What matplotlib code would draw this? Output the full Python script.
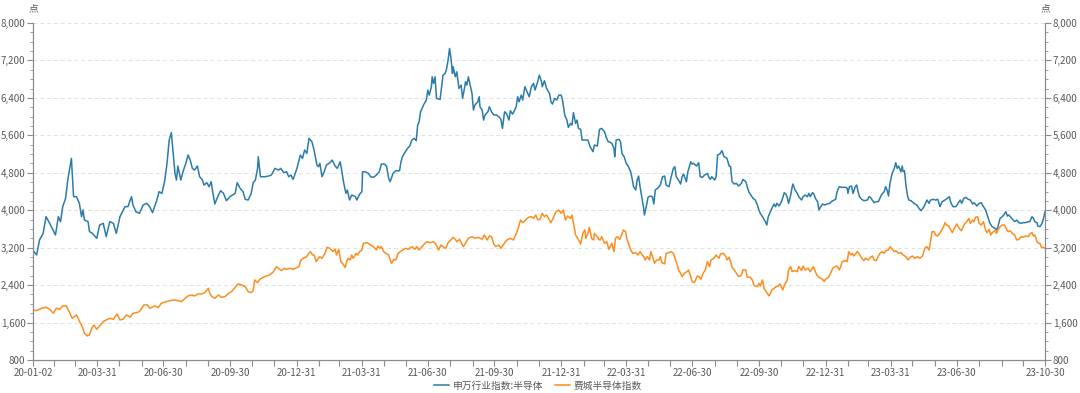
import pandas as pd
import matplotlib.pyplot as plt
from matplotlib.ticker import MultipleLocator, FuncFormatter

plt.rcParams['font.family'] = ['Noto Sans CJK SC', 'DejaVu Sans']

start = pd.Timestamp('2020-01-02')
end = pd.Timestamp('2023-10-30')

# days since 2020-01-02
blue_day = [0, 5, 9, 14, 18, 23, 31, 35, 38, 41, 45, 48, 53, 56, 60, 64, 67, 69, 71, 76,
            78, 82, 88, 92, 97, 101, 106, 111, 115, 120, 127, 131, 136, 138, 142, 147, 152, 157, 161, 165,
            171, 174, 178, 182, 185, 188, 191,
            196, 198, 200, 204, 207, 211, 214, 217, 220, 223, 227, 230, 234, 236, 240, 243, 246, 248, 251, 255,
            259, 263, 267, 272, 279, 282, 286, 290, 293, 297, 301, 304, 307, 310, 311, 314, 320, 325, 329, 334,
            339, 342, 346, 350, 353, 356, 359, 362, 365, 369, 372, 375, 378, 381, 385, 388, 392, 394,
            396, 399, 402, 405, 410, 413, 417, 420, 424, 426, 429, 432, 434, 437, 440, 445, 447, 451, 454, 455,
            458, 463, 466, 470, 474, 478, 481, 485, 488, 491, 493, 497, 501, 506, 508, 510, 514, 517, 520, 523,
            526, 529, 531, 533, 535, 539, 543, 545, 547, 550, 551, 553, 555, 557, 562, 566, 569, 571, 573, 575,
            577, 579, 580, 583, 585, 588, 591, 593, 596,
            597, 599, 601, 604, 606, 608, 610, 614, 616, 617, 620, 622, 624, 628, 630, 633, 636, 640, 644, 646,
            648, 651, 654, 657, 659, 662, 665, 667, 669, 671, 674, 676, 679, 682, 685, 688, 691, 693, 696, 699,
            702, 703, 706, 709, 713, 715, 717, 720, 723, 726, 729, 731, 734, 737, 739, 742, 744, 746, 749, 751,
            753, 756, 758, 762, 766, 769, 773, 775, 779, 782, 785, 789, 791, 794,
            797, 799, 802, 803, 805, 809, 811, 813, 816, 819, 822, 825, 827, 829, 832, 834, 836, 838, 841, 843,
            844, 847, 849, 852, 855, 857, 859, 862, 866, 869, 872, 874, 878, 881, 884, 886, 888, 891, 894, 896,
            898, 902, 904, 908, 910, 912, 916, 919, 921, 924, 927, 931, 933, 935, 937, 941, 943, 945, 948, 951,
            954, 956, 958, 961, 963, 965, 968, 971, 974, 978, 980, 984, 986, 988, 990, 994,
            997, 1000, 1002, 1004, 1007, 1009, 1011, 1013, 1015, 1018, 1020, 1023, 1025, 1027, 1030, 1032, 1034,
            1037, 1039, 1041, 1043, 1046, 1048, 1049, 1052, 1055, 1057, 1061, 1063, 1066, 1069, 1071, 1073, 1076,
            1078, 1080, 1083, 1085, 1087, 1090, 1093, 1096, 1100, 1102, 1106, 1108, 1110, 1113, 1116, 1119, 1122,
            1124, 1125, 1127, 1130, 1132, 1135, 1137, 1139, 1141, 1144, 1147, 1152, 1154, 1156, 1159, 1161, 1164,
            1167, 1170, 1172, 1175, 1177, 1179, 1181, 1183, 1186, 1189, 1191, 1193, 1195, 1198,
            1200, 1201, 1203, 1205, 1207, 1209, 1212, 1216, 1220, 1223, 1226, 1230, 1234, 1237, 1239, 1243, 1246,
            1249, 1252, 1255, 1259, 1262, 1265, 1267, 1270, 1274, 1277, 1280, 1282, 1285, 1288, 1291, 1294, 1297,
            1299, 1303, 1306, 1309, 1312, 1315, 1318, 1321, 1324, 1328, 1330, 1332, 1335, 1338, 1340, 1343, 1345,
            1347, 1351, 1353, 1355, 1358, 1361, 1364, 1367, 1370, 1374, 1376, 1379, 1381, 1383, 1386, 1387, 1390,
            1393, 1395, 1397]
blue_val = [3140, 3044, 3364, 3506, 3862, 3720, 3471, 3862, 3755, 4076, 4254, 4645, 5108, 4289, 4289, 4147, 3862, 4005, 3791, 3755,
            3542, 3506, 3399, 3684, 3720, 3435, 3755, 3720, 3506, 3862, 4076, 4076, 4289, 4111, 3969, 3933, 4111, 4147, 4076, 3948,
            4218, 4396, 4360, 4645, 5001, 5499, 5656,
            4787, 4645, 4944, 4645, 4823, 5001, 5179, 5072, 4894, 4858, 4944, 4716, 4645, 4538, 4588, 4503, 4609, 4396, 4133, 4289,
            4417, 4360, 4204, 4289, 4360, 4588, 4467, 4396, 4232, 4218, 4346, 4588, 4645, 4894, 5143, 4716, 4716, 4730, 4752, 4894,
            4858, 4894, 4802, 4823, 4716, 4752, 4659, 4787, 4930, 5179, 5108, 5286, 5214, 5535, 5464, 5286, 4965, 4930,
            5001, 4716, 4823, 4965, 5015, 5072, 4944, 4894, 5036, 4858, 4574, 4360, 4432, 4218, 4325, 4289, 4218, 4346, 4396, 4823,
            4823, 4787, 4716, 4702, 4752, 4823, 4987, 4987, 4944, 4681, 4609, 4787, 4844, 4844, 5036, 5143, 5250, 5321, 5371, 5499,
            5535, 5485, 5819, 5890, 6104, 6246, 6353, 6567, 6460, 6638, 6851, 6709, 6851, 6389, 6367, 6887, 6922, 7029, 7207, 7456,
            7243, 6922, 7065, 6851, 6958, 6602, 6674, 6389, 6638,
            6745, 6674, 6851, 6638, 6495, 6140, 6246, 6317, 6424, 6211, 6140, 5926, 6033, 6104, 6211, 6104, 6033, 6033, 5983, 5940,
            5748, 6104, 6054, 5926, 6125, 6054, 6140, 6211, 6424, 6317, 6460, 6353, 6638, 6531, 6424, 6638, 6709, 6567, 6709, 6887,
            6745, 6638, 6766, 6602, 6495, 6317, 6268, 6389, 6353, 6460, 6460, 6353, 6033, 5926, 5769, 5855, 5819, 6083, 5855, 5926,
            5748, 5727, 5499, 5499, 5499, 5357, 5250, 5392, 5371, 5727, 5748, 5677, 5570, 5464,
            5450, 5428, 5321, 5143, 5499, 5514, 5464, 5214, 5143, 5001, 4930, 4823, 4681, 4503, 4432, 4645, 4730, 4503, 4218, 4040,
            3898, 4111, 4275, 4303, 4289, 4133, 4432, 4467, 4538, 4716, 4730, 4538, 4503, 4716, 4894, 4930, 4716, 4645, 4560, 4716,
            4773, 4609, 4823, 5036, 4987, 5001, 4944, 5015, 4716, 4702, 4752, 4787, 4702, 4659, 4716, 4645, 4716, 5179, 5200, 5271,
            5143, 5129, 5108, 4944, 4930, 4609, 4560, 4574, 4517, 4574, 4659, 4609, 4503, 4396, 4346, 4254,
            4218, 4111, 4005, 3933, 3862, 3805, 3755, 3684, 3862, 3969, 4040, 4133, 4076, 4147, 4090, 4147, 4218,
            4375, 4346, 4289, 4147, 4325, 4503, 4560, 4432, 4360, 4289, 4218, 4289, 4325, 4289, 4360, 4289, 4375,
            4346, 4254, 4183, 4005, 4062, 4133, 4111, 4133, 4147, 4183, 4218, 4232, 4396, 4503, 4489, 4489, 4489,
            4467, 4360, 4503, 4517, 4360, 4503, 4538, 4396, 4289, 4232, 4204, 4218, 4289, 4275, 4204, 4161, 4183,
            4183, 4289, 4346, 4396, 4503, 4432, 4303, 4574, 4787, 4894, 5015, 4894, 4944, 4823,
            4944, 4823, 4844, 4538, 4325, 4218, 4204, 4147, 4111, 4040, 3990, 4076, 4218, 4147, 4218, 4232, 4218,
            4232, 4076, 4183, 4218, 4254, 4289, 4161, 4076, 4076, 4147, 4218, 4147, 4254, 4275, 4232, 4218, 4133,
            4161, 4090, 4147, 4161, 4076, 4005, 3862, 3720, 3649, 3613, 3578, 3649, 3826, 3862, 3898, 3969, 3876,
            3898, 3826, 3791, 3755, 3791, 3734, 3720, 3734, 3734, 3755, 3755, 3862, 3826, 3755, 3734, 3663, 3649,
            3720, 3826, 3969]

orange_day = [0, 5, 12, 18, 23, 28, 32, 37, 41, 46, 51, 54, 60, 65, 68, 71, 75, 78, 81, 84,
              88, 92, 97, 101, 106, 111, 116, 120, 124, 129, 134, 138, 143, 147, 153, 158, 161, 168, 173, 177,
              184, 189,
              196, 200, 205, 210, 214, 219, 223, 228, 233, 237, 242, 244, 247, 251, 256, 260, 265, 270, 274, 279,
              283, 288, 293, 297, 301, 304, 306, 310, 313, 318, 322, 327, 332, 336, 339, 343, 347, 350, 355, 359,
              364, 367, 370, 373, 378, 380, 383, 386, 388, 391, 394,
              396, 399, 403, 406, 410, 414, 417, 419, 422, 425, 428, 431, 433, 435, 438, 440, 442, 446, 448, 451,
              454, 456, 461, 464, 468, 470, 474, 476, 479, 481, 484, 487, 491, 493, 495, 498, 501, 504, 509, 514,
              518, 523, 527, 530, 533, 537, 541, 544, 548, 553, 556, 560, 563, 567, 570, 573, 576, 580, 583, 585,
              589, 592, 594,
              597, 601, 606, 610, 615, 620, 623, 627, 630, 633, 636, 639, 643, 646, 650, 654, 659, 663, 667, 669,
              673, 676, 680, 684, 688, 691, 694, 697, 700, 703, 706, 709, 713, 715, 719, 722, 726, 729, 732, 735,
              738, 742, 744, 746, 749, 752, 756, 759, 762, 763, 766, 768, 771, 774, 775, 779, 781, 783, 785, 789,
              792, 795,
              799, 802, 804, 807, 810, 813, 815, 818, 820, 822, 825, 828, 832, 835, 838, 841, 843, 845, 848, 851,
              853, 856, 858, 861, 864, 866, 868, 872, 874, 878, 881, 884, 887, 889, 891, 894, 896, 899, 903, 905,
              908, 910, 913, 917, 919, 922, 925, 928, 931, 934, 936, 940, 943, 947, 949, 953, 956, 958, 961, 963,
              965, 968, 971, 974, 978, 980, 984, 986, 990, 993, 995,
              997, 1000, 1002, 1004, 1007, 1009, 1012, 1016, 1018, 1020, 1023, 1026, 1029, 1031, 1033, 1035, 1038,
              1041, 1043, 1046, 1048, 1052, 1055, 1057, 1061, 1063, 1066, 1070, 1073, 1077, 1079, 1082, 1085, 1090,
              1092, 1094, 1098, 1101, 1104, 1107, 1110, 1113, 1115, 1117, 1121, 1124, 1126, 1129, 1131, 1133, 1136,
              1138, 1140, 1144, 1147, 1149, 1153, 1156, 1159, 1161, 1164, 1167, 1170, 1172, 1175, 1177, 1181, 1183,
              1185, 1189, 1191, 1195, 1198,
              1201, 1205, 1208, 1211, 1214, 1217, 1221, 1224, 1228, 1231, 1234, 1237, 1239, 1241, 1244, 1246, 1249,
              1253, 1257, 1259, 1261, 1264, 1267, 1269, 1272, 1275, 1277, 1281, 1283, 1286, 1289, 1292, 1294, 1297,
              1299, 1301, 1304, 1306, 1309, 1312, 1315, 1317, 1320, 1322, 1324, 1328, 1330, 1332, 1335, 1338, 1341,
              1344, 1346, 1349, 1352, 1355, 1358, 1361, 1364, 1367, 1370, 1374, 1376, 1379, 1381, 1383, 1386, 1388,
              1390, 1392, 1395, 1397]
orange_val = [1869, 1855, 1905, 1926, 1884, 1798, 1905, 1884, 1955, 1955, 1798, 1691, 1763, 1599, 1514, 1371, 1314, 1336, 1478, 1549,
              1457, 1528, 1620, 1656, 1691, 1670, 1784, 1656, 1670, 1763, 1713, 1798, 1812, 1834, 1976, 1976, 1905, 1955, 1919, 2012,
              2047, 2069,
              2083, 2069, 2047, 2118, 2168, 2189, 2168, 2211, 2211, 2239, 2332, 2225, 2154, 2118, 2189, 2139, 2154, 2225, 2261, 2353,
              2425, 2403, 2368, 2261, 2239, 2282, 2510, 2453, 2524, 2567, 2595, 2617, 2688, 2795, 2759, 2709, 2759, 2738, 2759, 2738,
              2774, 2795, 2937, 2973, 3008, 3065, 3115, 3044, 3044, 2901, 2973,
              3008, 2973, 3079, 3207, 3186, 3115, 3165, 3044, 3165, 2901, 2852, 2774, 2901, 2973, 2937, 3044, 2973, 3079, 3044, 3115,
              3150, 3293, 3307, 3279, 3236, 3222, 3150, 3236, 3186, 3222, 3115, 3079, 3044, 2937, 2866, 2951, 2937, 3079, 3136, 3186,
              3165, 3222, 3165, 3222, 3150, 3222, 3293, 3328, 3307, 3328, 3279, 3150, 3257, 3207, 3186, 3307, 3350, 3421, 3378, 3328,
              3378, 3279, 3222,
              3293, 3400, 3435, 3400, 3421, 3378, 3471, 3364, 3450, 3435, 3279, 3222, 3257, 3186, 3279, 3364, 3400, 3364, 3492, 3578,
              3791, 3734, 3791, 3848, 3862, 3826, 3898, 3791, 3805, 3933, 3862, 3898, 3791, 3734, 3862, 3969, 4005, 3933, 4005, 3791,
              3876, 3826, 3898, 3734, 3471, 3400, 3279, 3506, 3578, 3400, 3506, 3634, 3400, 3364, 3506, 3435, 3378, 3364, 3435, 3293,
              3328, 3165,
              3293, 3115, 3400, 3435, 3378, 3492, 3578, 3542, 3378, 3293, 3150, 3079, 3094, 3044, 3115, 3044, 3008, 2937, 3008, 2937,
              3115, 2973, 2866, 2937, 2937, 3008, 2880, 2852, 3079, 3094, 3115, 3079, 2937, 2852, 2724, 2652, 2581, 2652, 2688, 2724,
              2581, 2474, 2453, 2595, 2581, 2524, 2652, 2724, 2901, 2795, 2937, 2973, 3044, 2973, 3065, 3079, 3022, 2937, 2994, 2901,
              2781, 2724, 2652, 2581, 2617, 2724, 2724, 2567, 2567, 2510, 2403,
              2380, 2368, 2439, 2382, 2510, 2332, 2261, 2168, 2225, 2296, 2332, 2368, 2382, 2425, 2368, 2296, 2425,
              2496, 2724, 2795, 2688, 2709, 2688, 2795, 2709, 2809, 2724, 2759, 2688, 2795, 2724, 2617, 2567, 2524,
              2474, 2524, 2567, 2652, 2759, 2795, 2809, 2724, 2795, 2901, 2923, 2901, 3115, 3044, 3079, 3022, 3079,
              3115, 3079, 2973, 2923, 2973, 2937, 2994, 3022, 2937, 2923, 3022, 3094, 3115, 3079, 3136, 3150, 3222,
              3186, 3115, 3136, 3079, 3094,
              3044, 3008, 2937, 2994, 3022, 2973, 3008, 2973, 3022, 3186, 3222, 3150, 3328, 3542, 3542, 3471, 3450,
              3542, 3649, 3734, 3684, 3663, 3578, 3521, 3613, 3705, 3649, 3563, 3613, 3705, 3755, 3826, 3720, 3791,
              3755, 3848, 3862, 3720, 3684, 3755, 3578, 3521, 3592, 3471, 3521, 3563, 3506, 3578, 3649, 3684, 3684,
              3592, 3542, 3563, 3506, 3471, 3364, 3378, 3435, 3421, 3450, 3435, 3492, 3521, 3450, 3471, 3328, 3293,
              3293, 3207, 3207, 3186]

label_dates = ['2020-01-02', '2020-03-31', '2020-06-30', '2020-09-30', '2020-12-31',
               '2021-03-31', '2021-06-30', '2021-09-30', '2021-12-31',
               '2022-03-31', '2022-06-30', '2022-09-30', '2022-12-31',
               '2023-03-31', '2023-06-30', '2023-10-30']

blue_dates = start + pd.to_timedelta(blue_day, unit='D')
orange_dates = start + pd.to_timedelta(orange_day, unit='D')

blue_c = '#2a7cab'
orange_c = '#fd8d1e'
axis_c = '#8c8c8c'
text_c = '#595959'

fig = plt.figure(figsize=(10.8, 3.93), dpi=100)
ax = fig.add_axes([33 / 1080, 1 - 360 / 393, (1045 - 33) / 1080, (360 - 23) / 393])

ax.plot(blue_dates, blue_val, color=blue_c, lw=1.1, label='申万行业指数:半导体')
ax.plot(orange_dates, orange_val, color=orange_c, lw=1.1, label='费城半导体指数')

ax.set_xlim(start, end)
ax.set_ylim(800, 8000)

# y axis on both sides, same scale
ax.yaxis.set_major_locator(MultipleLocator(800))
ax.yaxis.set_minor_locator(MultipleLocator(200))
ax.yaxis.set_major_formatter(FuncFormatter(lambda v, p: f'{int(v):,}'))
ax.tick_params(axis='y', which='both', left=True, right=True, labelleft=True, labelright=True,
               colors=axis_c, labelcolor=text_c, labelsize=7, pad=1.5)
ax.tick_params(axis='y', which='major', length=4, width=0.8)
ax.tick_params(axis='y', which='minor', length=2.5, width=0.6)

# x axis: month-end ticks, quarter labels
ax.set_xticks(pd.to_datetime(label_dates))
ax.set_xticklabels([pd.Timestamp(d).strftime('%y-%m-%d') for d in label_dates])
ax.set_xticks(pd.date_range('2020-01-31', '2023-09-30', freq='ME'), minor=True)
ax.tick_params(axis='x', which='both', length=4, width=0.8, colors=axis_c,
               labelcolor=text_c, labelsize=7, pad=1.5)

ax.grid(axis='y', which='major', linestyle=(0, (4, 3)), color='#e2e2e2', linewidth=0.7)
ax.set_axisbelow(True)

ax.spines['top'].set_visible(False)
for s in ['left', 'right', 'bottom']:
    ax.spines[s].set_color(axis_c)
    ax.spines[s].set_linewidth(0.9)

fig.text(33 / 1080, 1 - 8 / 393, '点', ha='center', va='center', fontsize=7, color=text_c)
fig.text(1045 / 1080, 1 - 8 / 393, '点', ha='center', va='center', fontsize=7, color=text_c)

fig.legend(loc='center', bbox_to_anchor=(538 / 1080, 1 - 385.5 / 393), ncol=2, frameon=False,
           fontsize=7, handlelength=1.5, handletextpad=0.4, columnspacing=1.2,
           labelcolor=text_c)

fig.savefig('out.png', dpi=100)
